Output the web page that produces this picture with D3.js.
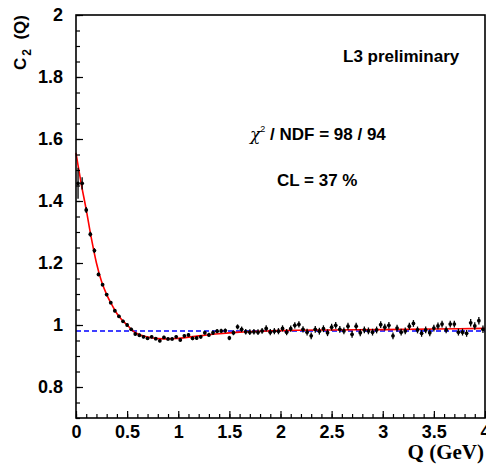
<!DOCTYPE html>
<html><head><meta charset="utf-8">
<script src="https://cdn.jsdelivr.net/npm/d3@7"></script>
<style>
html,body{margin:0;padding:0;background:#fff;}
svg{display:block;}
text{font-family:"Liberation Sans",Arial,Helvetica,sans-serif;font-weight:bold;fill:#000;}
</style></head>
<body>
<svg id="chart" width="486" height="465"></svg>
<script>
// ---- data ----
const qBins = [0.02,0.06,0.10,0.14,0.18,0.22,0.26,0.30,0.34,0.38,0.42,0.46,0.50,0.54,0.58,0.62,0.66,0.70,0.74,0.78,
0.82,0.86,0.90,0.94,0.98,1.02,1.06,1.10,1.14,1.18,1.22,1.26,1.30,1.34,1.38,1.42,1.46,1.50,1.54,1.58,
1.62,1.66,1.70,1.74,1.78,1.82,1.86,1.90,1.94,1.98,2.02,2.06,2.10,2.14,2.18,2.22,2.26,2.30,2.34,2.38,
2.42,2.46,2.50,2.54,2.58,2.62,2.66,2.70,2.74,2.78,2.82,2.86,2.90,2.94,2.98,3.02,3.06,3.10,3.14,3.18,
3.22,3.26,3.30,3.34,3.38,3.42,3.46,3.50,3.54,3.58,3.62,3.66,3.70,3.74,3.78,3.82,3.86,3.90,3.94,3.98];
const c2Values = [1.457,1.457,1.371,1.293,1.240,1.163,1.130,1.098,1.072,1.046,1.028,1.012,1.000,0.986,0.971,0.967,0.962,0.957,0.962,0.956,
0.949,0.960,0.955,0.955,0.962,0.952,0.965,0.968,0.957,0.958,0.962,0.975,0.968,0.975,0.980,0.981,0.982,0.958,0.975,0.994,
0.986,0.978,0.977,0.978,0.977,0.981,0.989,0.977,0.980,0.980,0.989,0.977,0.988,0.999,1.002,0.986,0.977,0.965,0.986,0.980,
0.988,0.975,0.993,0.999,0.986,0.981,0.996,0.970,0.996,0.975,0.984,0.981,0.977,0.984,1.001,0.993,0.999,0.965,0.990,0.977,
0.981,0.996,1.005,0.984,0.973,0.984,0.975,0.990,0.997,1.003,0.984,1.003,1.003,0.977,0.977,0.973,1.007,0.997,1.014,0.986];
const c2Errors = [0.050,0.020,0.010,0.008,0.008,0.006,0.005,0.005,0.005,0.005,0.005,0.005,0.005,0.005,0.005,0.005,0.005,0.005,0.005,0.005,
0.005,0.005,0.005,0.005,0.005,0.006,0.006,0.006,0.006,0.006,0.006,0.006,0.007,0.007,0.007,0.007,0.007,0.007,0.008,0.008,
0.009,0.009,0.009,0.009,0.009,0.009,0.010,0.010,0.010,0.010,0.010,0.010,0.010,0.010,0.010,0.010,0.011,0.011,0.011,0.011,
0.011,0.011,0.011,0.011,0.011,0.011,0.011,0.011,0.011,0.011,0.011,0.011,0.011,0.011,0.011,0.011,0.011,0.011,0.011,0.011,
0.011,0.011,0.011,0.011,0.011,0.011,0.011,0.011,0.011,0.011,0.011,0.011,0.011,0.011,0.011,0.011,0.012,0.012,0.012,0.012];
const fitQ = [0,0.02,0.05,0.10,0.15,0.20,0.25,0.30,0.35,0.40,0.45,0.50,0.55,0.60,0.70,0.80,0.90,1.00,1.20,1.40,1.60,1.80,2.00,2.50,3.00,3.50,4.00];
const fitC = [1.555,1.515,1.458,1.372,1.280,1.200,1.140,1.098,1.066,1.037,1.016,1.000,0.983,0.972,0.961,0.956,0.955,0.957,0.965,0.972,0.977,0.980,0.982,0.984,0.985,0.987,0.989];
const baseline = 0.981;
const xTicks = [0,0.5,1,1.5,2,2.5,3,3.5,4];
const xTickLabels = ["0","0.5","1","1.5","2","2.5","3","3.5","4"];
const yTicks = [0.8,1,1.2,1.4,1.6,1.8,2];
const yTickLabels = ["0.8","1","1.2","1.4","1.6","1.8","2"];
const xMinor = d3.range(0,40.5,1).map(d=>d/10);
const yMinor = d3.range(14,40.5,1).map(d=>d/20);

// ---- layout ----
const L=76, R=485, T=15, B=418;
const x = d3.scaleLinear().domain([0,4]).range([L,R]);
const y = d3.scaleLinear().domain([0.7,2]).range([B,T]);
const svg = d3.select("#chart");

// baseline (blue dashed)
svg.append("line").attr("x1",x(0)).attr("x2",x(4)).attr("y1",y(baseline)).attr("y2",y(baseline))
  .attr("stroke","#0000ff").attr("stroke-width",1.5).attr("stroke-dasharray","5,3");

// fit curve
const fitData = fitQ.map((q,i)=>[q,fitC[i]]);
svg.append("path").datum(fitData)
  .attr("d", d3.line().x(d=>x(d[0])).y(d=>y(d[1])).curve(d3.curveMonotoneX))
  .attr("fill","none").attr("stroke","#ff0000").attr("stroke-width",1.6);

// data points
const pts = qBins.map((q,i)=>({q, v:c2Values[i], e:c2Errors[i]}));
const gp = svg.append("g");
gp.selectAll("line.err").data(pts).join("line").attr("class","err")
  .attr("x1",d=>x(d.q)).attr("x2",d=>x(d.q))
  .attr("y1",d=>y(d.v-d.e)).attr("y2",d=>y(d.v+d.e))
  .attr("stroke","#000").attr("stroke-width",1.3);
gp.selectAll("circle").data(pts).join("circle")
  .attr("cx",d=>x(d.q)).attr("cy",d=>y(d.v)).attr("r",1.9).attr("fill","#000");

// axes
const fs = "18px";
svg.append("g").attr("transform",`translate(0,${B})`)
  .call(d3.axisBottom(x).tickValues(xTicks).tickFormat((d,i)=>xTickLabels[i]).tickSize(-7).tickSizeOuter(0).tickPadding(7));
svg.append("g").attr("transform",`translate(0,${B})`)
  .call(d3.axisBottom(x).tickValues(xMinor).tickFormat("").tickSize(-4).tickSizeOuter(0));
svg.append("g").attr("transform",`translate(${L},0)`)
  .call(d3.axisLeft(y).tickValues(yTicks).tickFormat((d,i)=>yTickLabels[i]).tickSize(-7).tickSizeOuter(0).tickPadding(13));
svg.append("g").attr("transform",`translate(${L},0)`)
  .call(d3.axisLeft(y).tickValues(yMinor).tickFormat("").tickSize(-4).tickSizeOuter(0));
svg.selectAll(".tick text").style("font-size",fs).style("font-family","'Liberation Sans',Arial,sans-serif").style("font-weight","bold");
svg.selectAll(".domain").remove();
svg.selectAll(".tick line").attr("stroke","#000").attr("stroke-width",1.2);

// frame
svg.append("rect").attr("x",L).attr("y",T).attr("width",R-L).attr("height",B-T)
  .attr("fill","none").attr("stroke","#000").attr("stroke-width",1.6);

// axis titles
const yt = svg.append("text").attr("transform","translate(26,15) rotate(-90)")
  .attr("text-anchor","end").style("font-size","17px");
yt.append("tspan").text("C");
yt.append("tspan").attr("dy",5).attr("dx",2).style("font-size","12px").text("2");
yt.append("tspan").attr("dy",-5).text("  (Q)").attr("xml:space","preserve");

svg.append("text").attr("x",484).attr("y",459).attr("text-anchor","end")
  .style("font-family","'Liberation Serif','Times New Roman',serif").style("font-size","21px").text("Q (GeV)");

// annotations
svg.append("text").attr("x",343).attr("y",62).style("font-size","17px").text("L3 preliminary");
const chi = svg.append("text").attr("x",250).attr("y",140).style("font-size","17px");
chi.append("tspan").style("font-family","'DejaVu Serif',serif").style("font-style","italic").style("font-weight","normal").text("χ");
chi.append("tspan").attr("dy",-8).style("font-size","9px").style("font-weight","normal").text("2");
chi.append("tspan").attr("dy",8).text(" / NDF = 98 / 94");
svg.append("text").attr("x",277).attr("y",186).style("font-size","17px").text("CL = 37 %");
</script>
</body></html>
